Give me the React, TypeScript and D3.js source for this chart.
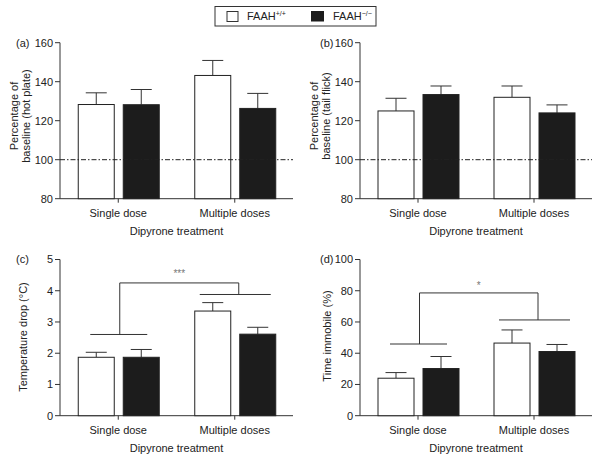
import React from 'react';
import * as d3 from 'd3';

const categories = ['Single dose', 'Multiple doses'];
const genotypes = ['FAAH+/+', 'FAAH-/-'];

// panel a: hot plate
const hotPlateMean = [[128.3, 128.2], [143.2, 126.3]];
const hotPlateErr = [[134.3, 136.0], [150.9, 134.0]];
// panel b: tail flick
const tailFlickMean = [[125.0, 133.4], [132.0, 124.0]];
const tailFlickErr = [[131.5, 137.8], [137.8, 128.1]];
// panel c: temperature drop
const tempDropMean = [[1.87, 1.87], [3.35, 2.61]];
const tempDropErr = [[2.03, 2.12], [3.62, 2.83]];
// panel d: time immobile
const immobileMean = [[24.0, 30.2], [46.5, 41.1]];
const immobileErr = [[27.6, 37.9], [54.9, 45.6]];

const ticksAB = [80, 100, 120, 140, 160];
const ticksC = [0, 1, 2, 3, 4, 5];
const ticksD = [0, 20, 40, 60, 80, 100];

const sigC = { low: [2.6, 3.88], top: 4.25, label: '***' };
const sigD = { low: [45.9, 61.3], top: 78.6, label: '*' };

const FONT = "'Liberation Sans', Arial, Helvetica, sans-serif";
const TXT = '#222';

type PanelProps = {
  left: number; top: number; bottom: number; right: number;
  domain: [number, number]; ticks: number[];
  means: number[][]; errs: number[][];
  tag: string; tagX: number;
  ylabel: string[]; ylabelX: number[]; ylabelY: number;
  baseline?: number;
  sig?: { low: number[]; top: number; label: string };
};

function Panel(p: PanelProps) {
  const y = d3.scaleLinear().domain(p.domain).range([p.bottom, p.top]);
  const x0 = d3.scalePoint<string>().domain(categories).range([p.left, p.right]).padding(0.5);
  const x1 = d3.scaleBand<string>().domain(genotypes).range([-40, 41]).paddingInner(0.2);
  const bw = x1.bandwidth();
  return (
    <g fontFamily={FONT} fill={TXT}>
      {/* y axis */}
      <line x1={p.left} x2={p.left} y1={y(p.domain[1])} y2={y(p.domain[0])} stroke="#333" />
      {p.ticks.map((t) => (
        <g key={t}>
          <line x1={p.left - 5} x2={p.left} y1={y(t)} y2={y(t)} stroke="#333" />
          <text x={p.left - 7} y={y(t)} dy="0.35em" textAnchor="end" fontSize={11}>{t}</text>
        </g>
      ))}
      {/* x axis */}
      <line x1={p.left} x2={p.right} y1={p.bottom} y2={p.bottom} stroke="#333" />
      {categories.map((c) => (
        <g key={c}>
          <line x1={x0(c)!} x2={x0(c)!} y1={p.bottom} y2={p.bottom + 4} stroke="#333" />
          <text x={x0(c)!} y={p.bottom + 14} dy="0.35em" textAnchor="middle" fontSize={11}>{c}</text>
        </g>
      ))}
      <text x={(p.left + p.right) / 2} y={p.bottom + 32} dy="0.35em" textAnchor="middle" fontSize={11}>Dipyrone treatment</text>
      {/* y label */}
      {p.ylabel.map((l, i) => (
        <text key={l} transform={`translate(${p.ylabelX[i]},${p.ylabelY}) rotate(-90)`} dy="0.35em" textAnchor="middle" fontSize={11}>{l}</text>
      ))}
      <text x={p.tagX} y={y(p.domain[1])} dy="0.35em" fontSize={11}>{p.tag}</text>
      {/* bars */}
      {categories.map((c, ci) => genotypes.map((g, gi) => {
        const bx = x0(c)! + x1(g)!;
        const cx = bx + bw / 2;
        return (
          <g key={c + g}>
            <line x1={cx} x2={cx} y1={y(p.means[ci][gi])} y2={y(p.errs[ci][gi])} stroke="#333" />
            <line x1={cx - 10.5} x2={cx + 10.5} y1={y(p.errs[ci][gi])} y2={y(p.errs[ci][gi])} stroke="#333" />
            <rect x={bx} y={y(p.means[ci][gi])} width={bw} height={p.bottom - y(p.means[ci][gi])}
              fill={gi === 0 ? '#fff' : '#1c1c1c'} stroke="#222" strokeWidth={1} />
          </g>
        );
      }))}
      {p.baseline !== undefined && (
        <line x1={p.left} x2={p.right} y1={y(p.baseline)} y2={y(p.baseline)} stroke="#222" strokeDasharray="5,2,1.5,2" />
      )}
      {p.sig && (() => {
        const s = p.sig!;
        const c1 = x0(categories[0])!;
        const c2 = x0(categories[1])!;
        const v1 = c1 + 1.5;
        const v2 = c2 + 4;
        return (
          <g stroke="#333" fill="none">
            <line x1={c1 - 28} x2={c1 + 29} y1={y(s.low[0])} y2={y(s.low[0])} />
            <line x1={c2 - 35} x2={c2 + 36} y1={y(s.low[1])} y2={y(s.low[1])} />
            <polyline points={`${v1},${y(s.low[0])} ${v1},${y(s.top)} ${v2},${y(s.top)} ${v2},${y(s.low[1])}`} />
            <text x={(v1 + v2) / 2} y={y(s.top) - (s.label.length > 1 ? 6 : 4)} textAnchor="middle" fontSize={10} fill="#777" stroke="none">{s.label}</text>
          </g>
        );
      })()}
    </g>
  );
}

export default function App() {
  return (
    <svg width={600} height={461} style={{ position: 'absolute', left: 0, top: 0, background: '#fff' }}>
      <rect width={600} height={461} fill="#fff" />
      {/* legend */}
      <g fontFamily={FONT} fill={TXT}>
        <rect x={215} y={6.5} width={161} height={19.5} fill="#fff" stroke="#333" />
        <rect x={227} y={11.5} width={11} height={10} fill="#fff" stroke="#333" />
        <text x={247} y={20} fontSize={11}>FAAH<tspan dy={-4} fontSize={7}>+/+</tspan></text>
        <rect x={311} y={11} width={13} height={10.5} fill="#1c1c1c" />
        <text x={333} y={20} fontSize={11}>FAAH<tspan dy={-4} fontSize={7}>−/−</tspan></text>
      </g>
      <Panel left={60} right={293} top={42.7} bottom={198.7} domain={[80, 160]} ticks={ticksAB}
        means={hotPlateMean} errs={hotPlateErr} tag="(a)" tagX={16}
        ylabel={['Percentage of', 'baseline (hot plate)']} ylabelX={[14, 26]} ylabelY={116} baseline={100} />
      <Panel left={360} right={592} top={42.7} bottom={198.7} domain={[80, 160]} ticks={ticksAB}
        means={tailFlickMean} errs={tailFlickErr} tag="(b)" tagX={320}
        ylabel={['Percentage of', 'baseline (tail flick)']} ylabelX={[314, 326]} ylabelY={116} baseline={100} />
      <Panel left={60} right={293} top={259.5} bottom={415.7} domain={[0, 5]} ticks={ticksC}
        means={tempDropMean} errs={tempDropErr} tag="(c)" tagX={16}
        ylabel={['Temperature drop (°C)']} ylabelX={[23]} ylabelY={337} sig={sigC} />
      <Panel left={360} right={592} top={259.5} bottom={415.7} domain={[0, 100]} ticks={ticksD}
        means={immobileMean} errs={immobileErr} tag="(d)" tagX={320}
        ylabel={['Time immobile (%)']} ylabelX={[327]} ylabelY={336} sig={sigD} />
    </svg>
  );
}
